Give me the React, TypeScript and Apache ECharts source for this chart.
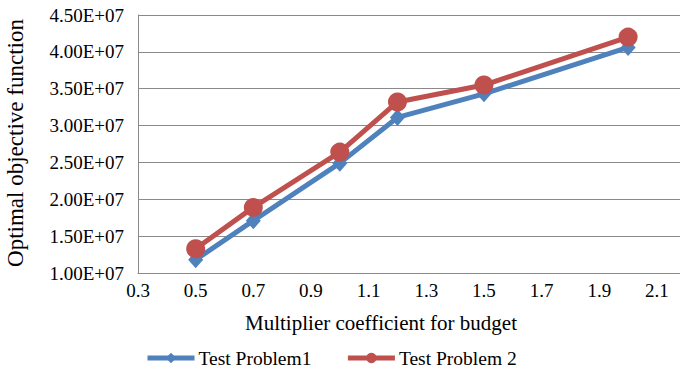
import React, { useEffect, useRef } from "react";
import * as echarts from "echarts";

// Budget multiplier (x) and optimal objective value (y) for both test problems
const multipliers = [0.5, 0.7, 1.0, 1.2, 1.5, 2.0];
const problem1 = [1.18e7, 1.71e7, 2.49e7, 3.11e7, 3.43e7, 4.06e7];
const problem2 = [1.33e7, 1.89e7, 2.64e7, 3.32e7, 3.55e7, 4.2e7];
const seriesNames = ["Test Problem1", "Test Problem 2"];
const xTitle = "Multiplier coefficient for budget";
const yTitle = "Optimal objective function";

const FONT = "Liberation Serif, Times New Roman, serif";
const BLUE = "#4F81BD";
const RED = "#C0504D";
const GRID = "#8a8a8a";

function fmtSci(v: number): string {
  const exp = Math.floor(Math.log10(v));
  const mant = v / Math.pow(10, exp);
  return mant.toFixed(2) + "E+" + String(exp).padStart(2, "0");
}

export default function App() {
  const ref = useRef<HTMLDivElement>(null);

  useEffect(() => {
    if (!ref.current) return;
    const chart = echarts.init(ref.current, undefined, { renderer: "svg" });
    chart.setOption({
      animation: false,
      backgroundColor: "#ffffff",
      textStyle: { fontFamily: FONT },
      grid: { left: 138, top: 15, right: 0, bottom: 99 },
      xAxis: {
        type: "value",
        min: 0.3,
        max: 2.18,
        interval: 0.2,
        axisLine: { show: true, lineStyle: { color: GRID, width: 1 } },
        axisTick: { show: false },
        splitLine: { show: false },
        axisLabel: {
          showMaxLabel: false,
          margin: 8,
          color: "#000",
          fontFamily: FONT,
          fontSize: 19,
          formatter: (v: number) => v.toFixed(1),
        },
      },
      yAxis: {
        type: "value",
        min: 1.0e7,
        max: 4.5e7,
        interval: 0.5e7,
        axisLine: { show: true, lineStyle: { color: GRID, width: 1 } },
        axisTick: { show: false },
        splitLine: { show: true, lineStyle: { color: GRID, width: 1 } },
        axisLabel: {
          margin: 14,
          color: "#000",
          fontFamily: FONT,
          fontSize: 19,
          formatter: (v: number) => fmtSci(v),
        },
      },
      legend: {
        top: 343,
        left: 140,
        itemWidth: 47,
        itemHeight: 13,
        itemGap: 34,
        lineStyle: { width: 5 },
        textStyle: { color: "#000", fontFamily: FONT, fontSize: 19.5, padding: [0, 0, 0, -1] },
        data: seriesNames,
      },
      graphic: [
        {
          type: "text",
          x: 381,
          y: 323,
          style: {
            text: xTitle,
            fill: "#000",
            fontFamily: FONT,
            fontSize: 21,
            textAlign: "center",
            textVerticalAlign: "middle",
          },
        },
        {
          type: "text",
          x: 15,
          y: 143,
          rotation: Math.PI / 2,
          style: {
            text: yTitle,
            fill: "#000",
            fontFamily: FONT,
            fontSize: 23,
            textAlign: "center",
            textVerticalAlign: "middle",
          },
        },
      ],
      series: [
        {
          name: seriesNames[0],
          type: "line",
          data: multipliers.map((x, i) => [x, problem1[i]]),
          symbol: "diamond",
          symbolSize: [15, 17],
          lineStyle: { color: BLUE, width: 5 },
          itemStyle: { color: BLUE },
        },
        {
          name: seriesNames[1],
          type: "line",
          data: multipliers.map((x, i) => [x, problem2[i]]),
          symbol: "circle",
          symbolSize: 19,
          lineStyle: { color: RED, width: 5 },
          itemStyle: { color: RED },
        },
      ],
    });
    return () => chart.dispose();
  }, []);

  return (
    <div
      ref={ref}
      style={{ position: "absolute", left: 0, top: 0, width: 680, height: 372 }}
    />
  );
}
